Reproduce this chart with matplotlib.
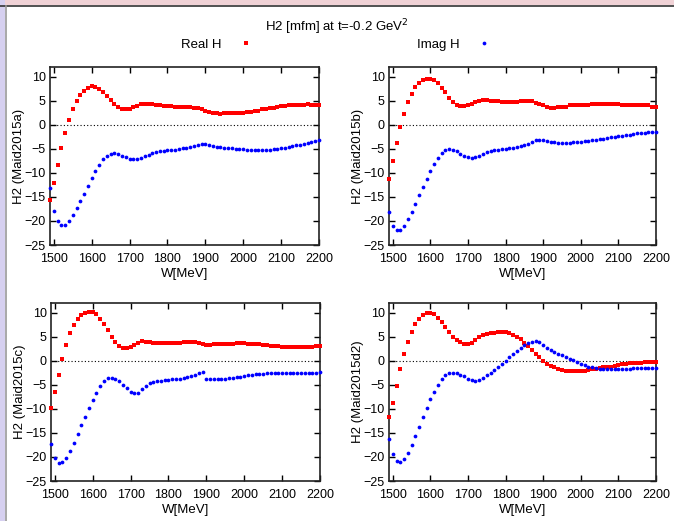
import matplotlib
matplotlib.use('Agg')
import matplotlib.pyplot as plt
import numpy as np
from matplotlib.patches import Rectangle
from matplotlib.lines import Line2D

plt.rcParams['font.family'] = ['Liberation Sans', 'DejaVu Sans']

# energia W (MeV), passo de 10
W = np.arange(1490, 2201, 10)

labels = ['H2 (Maid2015a)', 'H2 (Maid2015b)', 'H2 (Maid2015c)', 'H2 (Maid2015d2)']

real_a = [-15.6, -12.1, -8.3, -4.8, -1.7, 1.0, 3.3, 5.0, 6.25, 7.1,
          7.7, 8.1, 7.9, 7.5, 6.9, 6.0, 5.2, 4.4, 3.75, 3.3,
          3.3, 3.3, 3.75, 3.95, 4.4, 4.4, 4.4, 4.4, 4.2, 4.2,
          3.95, 3.95, 3.95, 3.75, 3.75, 3.75, 3.75, 3.75, 3.55, 3.55,
          3.3, 2.9, 2.7, 2.5, 2.5, 2.3, 2.5, 2.5, 2.5, 2.5,
          2.5, 2.5, 2.7, 2.7, 2.9, 2.9, 3.2, 3.35, 3.5, 3.5,
          3.75, 3.9, 3.9, 4.2, 4.2, 4.2, 4.2, 4.2, 4.4, 4.2,
          4.2, 4.2]
imag_a = [-13.1, -17.9, -20.1, -20.9, -20.8, -20.0, -18.8, -17.4, -15.9, -14.3,
          -12.7, -11.1, -9.6, -8.3, -7.1, -6.4, -6.0, -5.9, -6.1, -6.5,
          -6.8, -7.1, -7.2, -7.15, -6.9, -6.5, -6.2, -5.9, -5.7, -5.55,
          -5.4, -5.35, -5.3, -5.2, -5.1, -4.9, -4.8, -4.65, -4.45, -4.2,
          -4.1, -4.05, -4.25, -4.45, -4.6, -4.7, -4.75, -4.8, -4.9, -4.95,
          -5.0, -5.1, -5.15, -5.2, -5.25, -5.3, -5.3, -5.25, -5.2, -5.1,
          -5.0, -4.9, -4.75, -4.6, -4.45, -4.3, -4.2, -4.05, -3.85, -3.65,
          -3.45, -3.25]

real_b = [-11.25, -7.5, -3.75, -0.4, 2.3, 4.8, 6.45, 7.9, 8.75, 9.4,
          9.6, 9.6, 9.4, 8.75, 7.7, 6.7, 5.6, 4.8, 4.2, 3.95,
          3.95, 4.2, 4.4, 4.8, 5.0, 5.2, 5.2, 5.0, 5.0, 5.0,
          4.8, 4.8, 4.8, 4.8, 4.8, 5.0, 5.0, 5.0, 5.0, 4.6,
          4.4, 4.0, 3.7, 3.55, 3.55, 3.75, 3.75, 3.75, 4.0, 4.0,
          4.0, 4.2, 4.2, 4.2, 4.4, 4.4, 4.4, 4.4, 4.4, 4.4,
          4.4, 4.4, 4.2, 4.2, 4.2, 4.2, 4.0, 4.0, 4.0, 4.0,
          3.75, 3.75]
imag_b = [-18.05, -21.0, -21.9, -21.9, -21.0, -19.65, -18.1, -16.45, -14.7, -12.95,
          -11.3, -9.7, -8.25, -6.95, -5.85, -5.2, -5.0, -5.15, -5.5, -6.0,
          -6.45, -6.75, -6.9, -6.75, -6.4, -6.05, -5.75, -5.55, -5.35, -5.2,
          -5.05, -4.95, -4.85, -4.8, -4.65, -4.5, -4.3, -3.95, -3.6, -3.25,
          -3.1, -3.15, -3.35, -3.55, -3.65, -3.7, -3.75, -3.75, -3.7, -3.65,
          -3.55, -3.5, -3.4, -3.35, -3.2, -3.15, -3.0, -2.95, -2.8, -2.65,
          -2.5, -2.35, -2.3, -2.15, -2.1, -1.95, -1.8, -1.75, -1.65, -1.6,
          -1.55, -1.45]

real_c = [-9.9, -6.6, -3.05, 0.3, 3.2, 5.7, 7.35, 8.6, 9.45, 9.85,
          10.05, 10.05, 9.65, 8.6, 7.55, 6.3, 4.85, 3.8, 3.0, 2.55,
          2.55, 2.8, 3.2, 3.6, 4.0, 3.8, 3.8, 3.6, 3.6, 3.6,
          3.6, 3.6, 3.6, 3.6, 3.6, 3.8, 3.8, 3.8, 3.8, 3.6,
          3.4, 3.25, 3.25, 3.4, 3.4, 3.4, 3.4, 3.4, 3.4, 3.6,
          3.6, 3.6, 3.4, 3.4, 3.4, 3.4, 3.2, 3.2, 3.0, 3.0,
          3.0, 2.8, 2.8, 2.8, 2.8, 2.8, 2.8, 2.8, 2.8, 2.8,
          3.0, 3.0]
imag_c = [-17.35, -20.3, -21.25, -21.1, -20.2, -18.7, -17.0, -15.15, -13.35, -11.6,
          -9.9, -8.25, -6.65, -5.35, -4.15, -3.6, -3.5, -3.75, -4.3, -5.05,
          -5.75, -6.4, -6.75, -6.8, -5.9, -5.15, -4.65, -4.4, -4.3, -4.15,
          -4.1, -3.95, -3.9, -3.8, -3.7, -3.6, -3.4, -3.2, -2.9, -2.65,
          -2.3, -3.75, -3.9, -3.9, -3.85, -3.75, -3.7, -3.6, -3.55, -3.4,
          -3.3, -3.2, -3.05, -2.9, -2.85, -2.8, -2.7, -2.65, -2.6, -2.6,
          -2.5, -2.5, -2.5, -2.5, -2.5, -2.5, -2.5, -2.5, -2.45, -2.45,
          -2.45, -2.4]

real_d = [-11.75, -8.7, -5.15, -1.8, 1.3, 3.8, 5.9, 7.55, 8.6, 9.45,
          9.85, 9.85, 9.65, 8.8, 8.0, 6.95, 5.9, 4.85, 4.25, 3.8,
          3.4, 3.4, 3.6, 4.25, 4.85, 5.3, 5.5, 5.7, 5.7, 5.9,
          5.9, 5.9, 5.7, 5.3, 4.85, 4.45, 3.6, 3.0, 2.15, 1.3,
          0.7, -0.15, -0.6, -1.05, -1.4, -1.75, -1.9, -2.1, -2.2, -2.2,
          -2.2, -2.2, -2.15, -1.95, -1.75, -1.65, -1.55, -1.4, -1.25, -1.2,
          -1.05, -0.85, -0.75, -0.6, -0.55, -0.55, -0.5, -0.4, -0.35, -0.35,
          -0.3, -0.3]
imag_d = [-16.3, -19.45, -20.75, -20.95, -20.35, -19.1, -17.5, -15.55, -13.7, -11.75,
          -9.9, -8.05, -6.4, -4.95, -3.75, -2.9, -2.55, -2.5, -2.65, -2.9,
          -3.25, -3.7, -4.0, -4.15, -4.0, -3.55, -3.05, -2.5, -1.9, -1.3,
          -0.7, 0.0, 0.7, 1.4, 2.1, 2.7, 3.25, 3.7, 3.95, 4.05,
          3.95, 3.3, 2.6, 2.15, 1.8, 1.45, 1.1, 0.75, 0.4, 0.05,
          -0.3, -0.6, -0.9, -1.2, -1.4, -1.6, -1.7, -1.75, -1.75, -1.75,
          -1.75, -1.75, -1.75, -1.7, -1.7, -1.6, -1.6, -1.55, -1.55, -1.5,
          -1.5, -1.5]

reais = [real_a, real_b, real_c, real_d]
imags = [imag_a, imag_b, imag_c, imag_d]

W_px, H_px = 674, 521
fig = plt.figure(figsize=(W_px / 100, H_px / 100), dpi=100)

# moldura da janela (faixas rosa/lilás)
fig.patches.append(Rectangle((0, 1 - 5 / H_px), 1, 5 / H_px, transform=fig.transFigure,
                             facecolor='#f0d2d6', edgecolor='none', zorder=0))
fig.patches.append(Rectangle((0, 0), 5 / W_px, 1, transform=fig.transFigure,
                             facecolor='#d6d0f0', edgecolor='none', zorder=0))
fig.lines.append(Line2D([0, 1], [1 - 5.5 / H_px] * 2, transform=fig.transFigure,
                        color='#333333', lw=1.2))
fig.lines.append(Line2D([5.5 / W_px] * 2, [0, 1 - 5.5 / H_px], transform=fig.transFigure,
                        color='#999999', lw=1.2))

# posições dos painéis em pixels (esquerda, direita, topo, base)
caixas = [(50, 319, 67, 245), (389, 656, 67, 245), (51, 320, 303, 481), (389, 656, 303, 481)]

for i, (l, r, t, b) in enumerate(caixas):
    ax = fig.add_axes([l / W_px, 1 - b / H_px, (r - l) / W_px, (b - t) / H_px])
    ax.axhline(0, color='black', lw=0.8, ls=(0, (1, 2)), zorder=1)
    hr, = ax.plot(W, reais[i], 's', color='#ff0000', ms=2.4, mew=0, clip_on=False, zorder=3)
    hi, = ax.plot(W, imags[i], 'o', color='#0000ff', ms=2.7, mew=0, clip_on=False, zorder=3)
    ax.set_xlim(1490, 2200)
    ax.set_ylim(-25, 12)
    ax.set_xticks(np.arange(1500, 2201, 100))
    ax.set_yticks(np.arange(-25, 11, 5))
    ax.tick_params(direction='in', top=True, right=True, length=4, width=1, labelsize=9)
    ax.tick_params(axis='x', pad=6)
    ax.tick_params(axis='y', pad=3)
    for s in ax.spines.values():
        s.set_linewidth(1.2)
        s.set_color('#222222')
    ax.set_xlabel('W[MeV]', fontsize=9.5)
    ax.set_ylabel(labels[i], fontsize=9.5)
    # rótulos centrados como no gnuplot
    ax.xaxis.set_label_coords(0.5, -29 / (b - t), transform=ax.transAxes)
    ax.yaxis.set_label_coords(-31 / (r - l), 0.5, transform=ax.transAxes)
    ax.xaxis.label.set_va('center')
    ax.yaxis.label.set_va('center')
    if i == 0:
        h_real, h_imag = hr, hi

fig.text(0.5, 1 - 27 / H_px, 'H2 [mfm] at t=-0.2 GeV$^2$', ha='center', va='center', fontsize=9.5)

leg1 = fig.legend([h_real], ['Real H'], loc='center', bbox_to_anchor=(220 / W_px, 1 - 45 / H_px),
                  frameon=False, markerfirst=False, fontsize=9.5, handlelength=2, handletextpad=0.8,
                  borderpad=0)
leg2 = fig.legend([h_imag], ['Imag H'], loc='center', bbox_to_anchor=(457 / W_px, 1 - 45 / H_px),
                  frameon=False, markerfirst=False, fontsize=9.5, handlelength=2, handletextpad=0.8,
                  borderpad=0)

fig.savefig('out.png', dpi=100)
